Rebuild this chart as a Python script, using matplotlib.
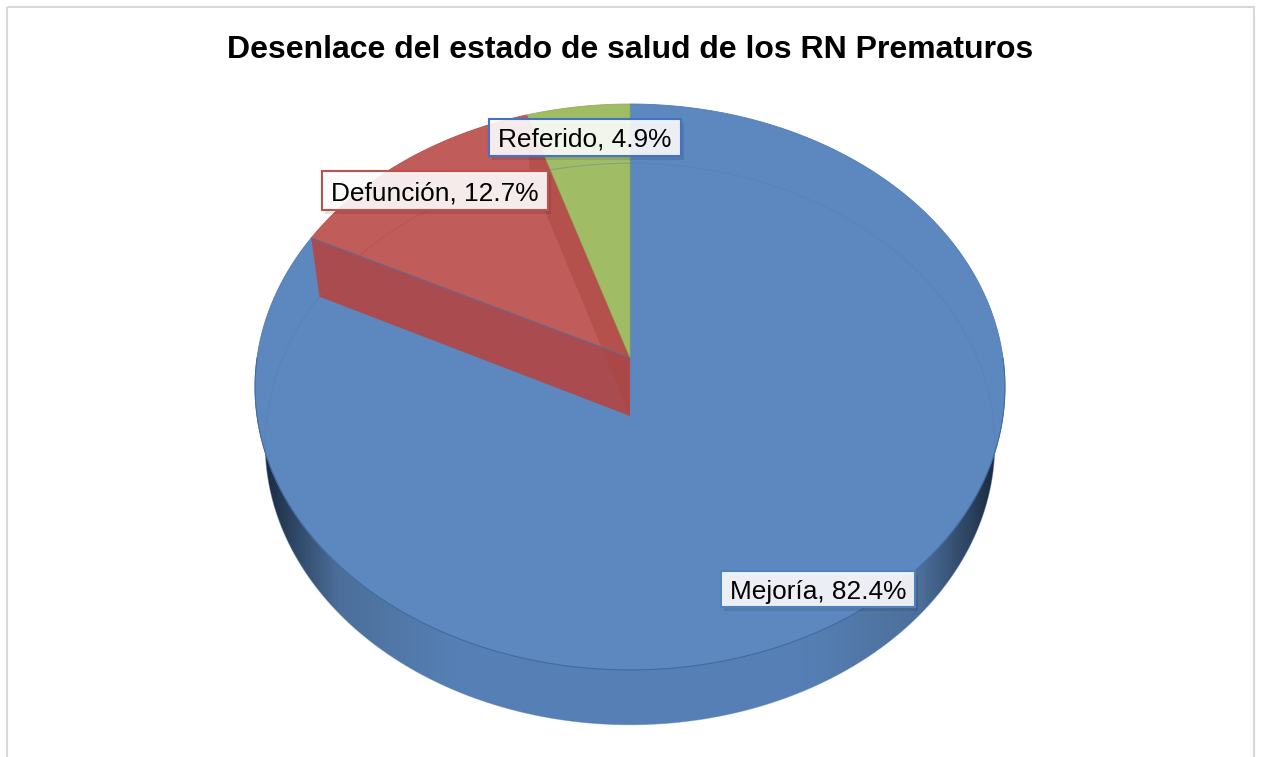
import numpy as np
import matplotlib
matplotlib.use("Agg")
import matplotlib.pyplot as plt
from matplotlib.colors import LinearSegmentedColormap
from matplotlib.patches import Polygon, Rectangle

plt.rcParams['font.family'] = ['Liberation Sans', 'DejaVu Sans']

title = "Desenlace del estado de salud de los RN Prematuros"
names = ["Mejoría", "Defunción", "Referido"]
values = [82.4, 12.7, 4.9]
colors = ["#5c88bf", "#c05c5a", "#a0bc64"]
edge_colors = ["#4f7cb4", "#b5504e", "#93b05a"]

# perspective of the pie, in pixels: centre x, centre y, half width, half height, tilt
top_face = (630, 358, 373, 280, 0.1024)
bottom_face = (630, 416, 363, 278, 0.0996)


def project(face, theta):
    # theta is clockwise from 12 o'clock
    cx, cy, a, b, k = face
    d = 1 + k * np.cos(theta)
    return cx + a * np.sin(theta) / d, cy - b * np.cos(theta) / d


def sector(face, t0, t1):
    t = np.linspace(t0, t1, 300)
    x, y = project(face, t)
    return np.r_[face[0], x], np.r_[face[1], y]


fig = plt.figure(figsize=(12.61, 7.57), dpi=100)
ax = fig.add_axes([0, 0, 1, 1])

# slice limits, the pie runs clockwise from the top
edges = np.r_[0, np.cumsum(values)] / np.sum(values) * 2 * np.pi

# side wall with dark ends
wall_cmap = LinearSegmentedColormap.from_list("wall", [
    (0.00, "#1c2b40"), (0.035, "#2d4462"), (0.10, "#4c6f9a"), (0.26, "#5680b5"),
    (0.74, "#5680b5"), (0.90, "#4c6f9a"), (0.965, "#2d4462"), (1.00, "#1c2b40")])
wx, wy = project(bottom_face, np.linspace(0, 2 * np.pi, 720))
im = ax.imshow(np.linspace(0, 1, 512)[None, :], cmap=wall_cmap, aspect='auto',
               extent=(wx.min(), wx.max(), wy.max(), wy.min()), zorder=1)
clip = Polygon(np.c_[wx, wy], closed=True, transform=ax.transData, fill=False, lw=0)
ax.add_patch(clip)
im.set_clip_path(clip)

# top of the pie
for i in range(len(values)):
    px, py = sector(top_face, edges[i], edges[i + 1])
    ax.fill(px, py, facecolor=colors[i], edgecolor=edge_colors[i], lw=0.6, zorder=2)

# cut faces of the Defunción slice
i_def = names.index("Defunción")
for t, col, alpha in [(edges[i_def], "#aa4b50", 1.0), (edges[i_def + 1], "#a8443a", 0.42)]:
    tx, ty = project(top_face, t)
    bx, by = project(bottom_face, t)
    ax.fill([top_face[0], tx, bx, bottom_face[0]], [top_face[1], ty, by, bottom_face[1]],
            facecolor=col, edgecolor="none", alpha=alpha, zorder=3)
tx, ty = project(top_face, edges[i_def])
ax.plot([top_face[0], tx], [top_face[1], ty], color="#5b6c96", lw=0.7, zorder=4)

# rim of the top face over the wall
rx, ry = project(top_face, np.linspace(np.pi / 2, 3 * np.pi / 2, 400))
ax.plot(rx, ry, color="#3f6aa0", lw=0.7, zorder=4)

# bottom of the pie seen through the top, all but the Defunción part
fx, fy = project(bottom_face, np.linspace(edges[i_def + 1], edges[i_def] + 2 * np.pi, 720))
ax.plot(fx, fy, color="#4f7db8", lw=0.7, alpha=0.45, zorder=4)
dx, dy = project(bottom_face, np.linspace(edges[i_def], edges[i_def + 1], 100))
ax.plot(dx, dy, color="#b5504e", lw=0.7, alpha=0.7, zorder=4)

# data labels
label_boxes = [(721, 571, 194, 36), (322, 171, 226, 39), (489, 119, 192, 37)]
label_edges = ["#4f81bd", "#c0504d", "#4472c4"]
for name, val, box, col in zip(names, values, label_boxes, label_edges):
    x0, y0, w, h = box
    ax.add_patch(Rectangle((x0 + 3, y0 + 4), w, h, facecolor="#000000", alpha=0.10,
                           edgecolor="none", zorder=5))
    ax.add_patch(Rectangle((x0, y0), w, h, facecolor="#ffffff", alpha=0.89,
                           edgecolor="none", zorder=6))
    ax.add_patch(Rectangle((x0, y0), w, h, fill=False, edgecolor=col, lw=1.5, zorder=7))
    ax.text(x0 + w / 2, y0 + h / 2, f"{name}, {val}%", ha='center', va='center_baseline',
            fontsize=18.9, color="#000000", zorder=8)

ax.text(630, 50, title, ha='center', va='center', fontsize=23, fontweight='bold', color="#000000")

# chart frame, runs off the bottom of the picture
ax.add_patch(Rectangle((6.5, 6.5), 1247.5, 780, fill=False, edgecolor="#d9d9d9", lw=1.5, zorder=0))

ax.set_xlim(0, 1261)
ax.set_ylim(757, 0)
ax.axis('off')

fig.savefig("out.png", dpi=100)
